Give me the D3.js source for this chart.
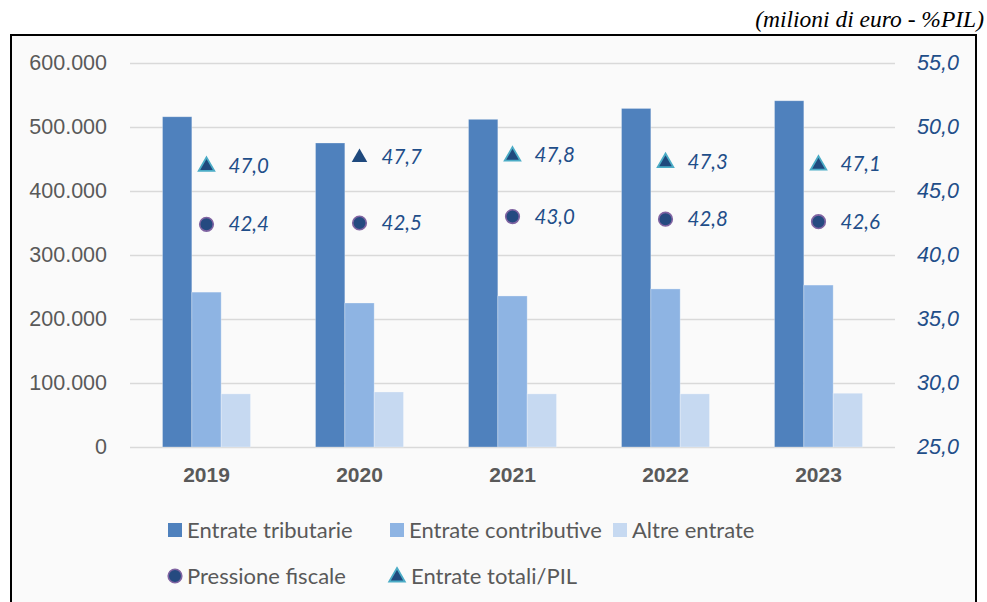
<!DOCTYPE html>
<html>
<head>
<meta charset="utf-8">
<script src="https://cdn.jsdelivr.net/npm/d3@7"></script>
<style>
  html, body { margin: 0; padding: 0; background: #fff; }
  svg { display: block; font-family: Lato, "Open Sans", sans-serif; }
  .grid line { stroke: #d9d9d9; stroke-width: 1.5; }
  .grid .domain { display: none; }
  .ax-left text { fill: #595959; font-size: 21.5px; }
  .ax-right text { fill: #1f4e89; font-size: 21.5px; font-style: italic; }
  .ax-x text { fill: #595959; font-size: 21px; font-weight: bold; }
  .val { fill: #1f4e89; font-size: 20.5px; font-style: italic; }
  .legend text { fill: #595959; font-size: 22px; }
</style>
</head>
<body>
<svg id="chart" width="987" height="602"></svg>
<script>
// data
const years = ['2019', '2020', '2021', '2022', '2023'];
const series = ['Entrate tributarie', 'Entrate contributive', 'Altre entrate'];
const tributarie = [516000, 475000, 512000, 529000, 541000];
const contributive = [242000, 225000, 236000, 247000, 253000];
const altre = [83000, 86000, 83000, 83000, 84000];
const pressione = [42.4, 42.5, 43.0, 42.8, 42.6];      // Pressione fiscale (%PIL)
const entrateTotali = [47.0, 47.7, 47.8, 47.3, 47.1];  // Entrate totali/PIL
const leftTicks = [0, 100000, 200000, 300000, 400000, 500000, 600000];
const rightTicks = [25, 30, 35, 40, 45, 50, 55];

const colors = ['#4f81bd', '#8eb4e3', '#c6d9f1'];

const it = d3.formatLocale({ decimal: ',', thousands: '.', grouping: [3], currency: ['€', ''] });
const fmtLeft = it.format(',.0f');
const fmtRight = it.format('.1f');

const svg = d3.select('#chart');

// title above the frame
svg.append('text')
  .attr('x', 984)
  .attr('y', 27)
  .attr('text-anchor', 'end')
  .style('font-family', '"Liberation Serif", "Times New Roman", serif')
  .style('font-style', 'italic')
  .style('font-size', '23.5px')
  .text('(milioni di euro - %PIL)');

// frame
svg.append('rect')
  .attr('x', 11).attr('y', 35)
  .attr('width', 965).attr('height', 620)
  .attr('fill', '#fafafa')
  .attr('stroke', '#000')
  .attr('stroke-width', 2);

const plot = { left: 130, right: 895, top: 63, bottom: 447 };

const x = d3.scaleBand()
  .domain(years)
  .range([plot.left, plot.right])
  .paddingInner(0.425)
  .paddingOuter(0.2125);

const xs = d3.scaleBand()
  .domain(series)
  .range([0, x.bandwidth()]);

const yLeft = d3.scaleLinear().domain([0, 600000]).range([plot.bottom, plot.top]);
const yRight = d3.scaleLinear().domain([25, 55]).range([plot.bottom, plot.top]);

// gridlines
svg.append('g')
  .attr('class', 'grid')
  .attr('transform', `translate(${plot.left},0)`)
  .call(d3.axisLeft(yLeft).tickValues(leftTicks).tickSize(-(plot.right - plot.left)).tickFormat(''));

// left axis
const gl = svg.append('g')
  .attr('class', 'ax-left')
  .attr('transform', `translate(${plot.left},0)`)
  .call(d3.axisLeft(yLeft).tickValues(leftTicks).tickSize(0).tickPadding(23).tickFormat(fmtLeft));
gl.select('.domain').remove();

// right axis
const gr = svg.append('g')
  .attr('class', 'ax-right')
  .attr('transform', `translate(${plot.right},0)`)
  .call(d3.axisRight(yRight).tickValues(rightTicks).tickSize(0).tickPadding(22).tickFormat(fmtRight));
gr.select('.domain').remove();

// x axis labels
const gx = svg.append('g')
  .attr('class', 'ax-x')
  .attr('transform', `translate(0,${plot.bottom})`)
  .call(d3.axisBottom(x).tickSize(0).tickPadding(20));
gx.select('.domain').remove();

// bars
const barData = [];
years.forEach((yr, i) => {
  [tributarie, contributive, altre].forEach((arr, j) => {
    barData.push({ year: yr, series: series[j], value: arr[i], color: colors[j] });
  });
});

svg.append('g')
  .selectAll('rect')
  .data(barData)
  .join('rect')
  .attr('x', d => x(d.year) + xs(d.series))
  .attr('y', d => yLeft(d.value))
  .attr('width', xs.bandwidth())
  .attr('height', d => yLeft(0) - yLeft(d.value))
  .attr('fill', d => d.color)
  .attr('stroke', 'rgba(255,255,255,0.35)')
  .attr('stroke-width', 0.8);

// markers
const cx = yr => x(yr) + x.bandwidth() / 2;
const tri = d3.symbol().type(d3.symbolTriangle).size(105);

const pts = svg.append('g');

pts.selectAll('circle')
  .data(years.map((yr, i) => ({ year: yr, value: pressione[i] })))
  .join('circle')
  .attr('cx', d => cx(d.year))
  .attr('cy', d => yRight(d.value))
  .attr('r', 6.8)
  .attr('fill', '#254a80')
  .attr('stroke', '#8064a2')
  .attr('stroke-width', 1.6);

pts.selectAll('path')
  .data(years.map((yr, i) => ({ year: yr, value: entrateTotali[i] })))
  .join('path')
  .attr('d', tri)
  .attr('transform', d => `translate(${cx(d.year)},${yRight(d.value) + 1})`)
  .attr('fill', '#1f497d')
  .attr('stroke', d => d.year === '2020' ? 'none' : '#4bacc6')
  .attr('stroke-width', 1.8);

// value labels
const labels = years.flatMap((yr, i) => [
  { year: yr, value: pressione[i] },
  { year: yr, value: entrateTotali[i] }
]);

pts.selectAll('text')
  .data(labels)
  .join('text')
  .attr('class', 'val')
  .attr('x', d => cx(d.year) + 22)
  .attr('y', d => yRight(d.value))
  .attr('dy', '0.35em')
  .text(d => fmtRight(d.value));

// legend
const legend = svg.append('g').attr('class', 'legend');
const legendRow1 = [
  { name: series[0], x: 168, color: colors[0] },
  { name: series[1], x: 390, color: colors[1] },
  { name: series[2], x: 613, color: colors[2] }
];
const row1 = legend.selectAll('g.r1')
  .data(legendRow1)
  .join('g')
  .attr('class', 'r1')
  .attr('transform', d => `translate(${d.x},530)`);
row1.append('rect')
  .attr('x', 0).attr('y', -7)
  .attr('width', 14).attr('height', 14)
  .attr('fill', d => d.color);
row1.append('text')
  .attr('x', 19)
  .attr('dy', '0.35em')
  .text(d => d.name);

const r2 = legend.append('g').attr('transform', 'translate(168,576)');
r2.append('circle')
  .attr('cx', 7).attr('cy', 0).attr('r', 6.8)
  .attr('fill', '#254a80').attr('stroke', '#8064a2').attr('stroke-width', 1.6);
r2.append('text').attr('x', 19).attr('dy', '0.35em').text('Pressione fiscale');

const r3 = legend.append('g').attr('transform', 'translate(390,576)');
r3.append('path')
  .attr('d', tri)
  .attr('transform', 'translate(7,1)')
  .attr('fill', '#1f497d').attr('stroke', '#4bacc6').attr('stroke-width', 1.8);
r3.append('text').attr('x', 21).attr('dy', '0.35em').text('Entrate totali/PIL');
</script>
</body>
</html>
